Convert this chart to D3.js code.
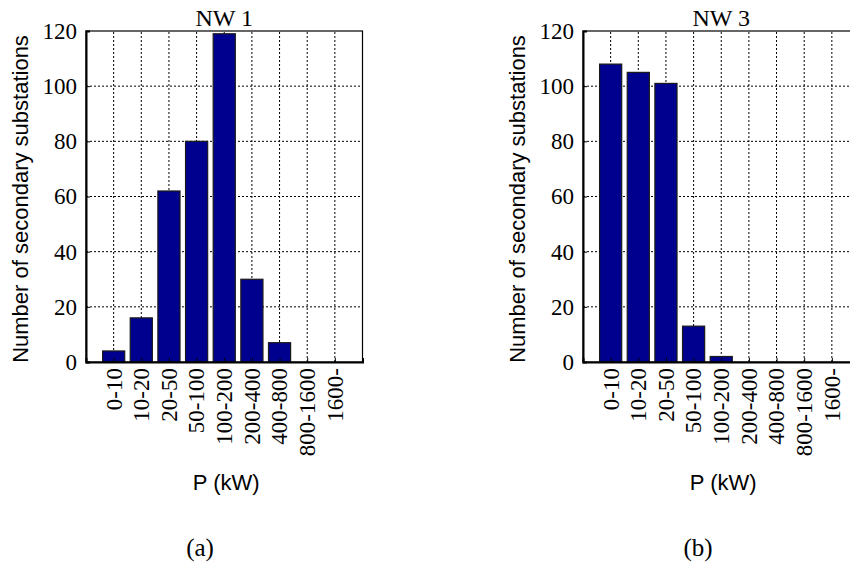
<!DOCTYPE html>
<html>
<head>
<meta charset="utf-8">
<script src="https://cdn.jsdelivr.net/npm/d3@7"></script>
<style>
  html, body { margin: 0; padding: 0; background: #fff; }
  svg { display: block; }
</style>
</head>
<body>
<div id="chart"></div>
<script>
const categories = ['0-10', '10-20', '20-50', '50-100', '100-200', '200-400', '400-800', '800-1600', '1600-'];
const nw1Counts = [4, 16, 62, 80, 119, 30, 7, 0, 0];
const nw3Counts = [108, 105, 101, 13, 2, 0, 0, 0, 0];
const yTicks = [0, 20, 40, 60, 80, 100, 120];
const panelTitles = ['NW 1', 'NW 3'];
const panelLetters = ['(a)', '(b)'];

const width = 850;
const height = 564;
const serif = '"Liberation Serif", "Times New Roman", serif';
const sans = '"Liberation Sans", Arial, sans-serif';

const svg = d3.select('#chart')
    .append('svg')
    .attr('width', width)
    .attr('height', height);

const panels = [
    { left: 86, counts: nw1Counts, title: panelTitles[0], letter: panelLetters[0], letterX: 200 },
    { left: 583, counts: nw3Counts, title: panelTitles[1], letter: panelLetters[1], letterX: 698 }
];

panels.forEach(p => drawPanel(p));

function drawPanel(p) {
    const plotW = 276.5;
    const top = 31, bottom = 362;

    const x = d3.scaleLinear().domain([0, 10]).range([p.left, p.left + plotW]);
    const y = d3.scaleLinear().domain([0, 120]).range([bottom, top]);

    const g = svg.append('g');

    // dotted grid
    g.append('g')
        .selectAll('line')
        .data(yTicks.slice(1, -1))
        .enter().append('line')
        .attr('x1', x(0)).attr('x2', x(10))
        .attr('y1', d => y(d)).attr('y2', d => y(d))
        .attr('stroke', '#000')
        .attr('stroke-width', 1)
        .attr('stroke-dasharray', '2,2');

    g.append('g')
        .selectAll('line')
        .data(categories)
        .enter().append('line')
        .attr('x1', (d, i) => x(i + 1)).attr('x2', (d, i) => x(i + 1))
        .attr('y1', y(0)).attr('y2', y(120))
        .attr('stroke', '#000')
        .attr('stroke-width', 1)
        .attr('stroke-dasharray', '2,2');

    // bars
    const barW = x(0.8) - x(0);
    g.append('g')
        .selectAll('rect')
        .data(p.counts)
        .enter().append('rect')
        .attr('x', (d, i) => x(i + 1) - barW / 2)
        .attr('y', d => y(d))
        .attr('width', barW)
        .attr('height', d => y(0) - y(d))
        .attr('fill', '#00008f')
        .attr('stroke', '#1a1a1a')
        .attr('stroke-width', 1.2);

    // box (top and right thin)
    g.append('rect')
        .attr('x', x(0)).attr('y', y(120))
        .attr('width', x(10) - x(0)).attr('height', y(0) - y(120))
        .attr('fill', 'none')
        .attr('stroke', '#000')
        .attr('stroke-width', 1.2);

    // y axis (left)
    const yAxis = d3.axisLeft(y).tickValues(yTicks).tickSize(-4).tickPadding(9);
    const ya = g.append('g')
        .attr('transform', `translate(${x(0)},0)`)
        .call(yAxis);
    ya.select('.domain').attr('stroke', '#000').attr('stroke-width', 2);
    ya.selectAll('.tick line').attr('stroke', '#000');
    ya.selectAll('.tick text')
        .attr('font-family', serif)
        .attr('font-size', 23)
        .attr('fill', '#000');

    // x axis (bottom), rotated labels
    const xAxis = d3.axisBottom(x)
        .tickValues(categories.map((c, i) => i + 1))
        .tickFormat((d) => categories[d - 1])
        .tickSize(-4);
    const xa = g.append('g')
        .attr('transform', `translate(0,${y(0)})`)
        .call(xAxis);
    xa.select('.domain').attr('stroke', '#000').attr('stroke-width', 2);
    xa.selectAll('.tick line').attr('stroke', '#000');
    xa.selectAll('.tick text')
        .attr('font-family', serif)
        .attr('font-size', 23)
        .attr('fill', '#000')
        .attr('text-anchor', 'end')
        .attr('transform', 'translate(0,6) rotate(-90)')
        .attr('x', 0)
        .attr('y', 0)
        .attr('dy', '0.32em');

    // title
    g.append('text')
        .attr('x', (x(0) + x(10)) / 2)
        .attr('y', 26)
        .attr('text-anchor', 'middle')
        .attr('font-family', serif)
        .attr('font-size', 24)
        .text(p.title);

    // y label
    g.append('text')
        .attr('transform', `translate(${x(0) - 58},199) rotate(-90)`)
        .attr('text-anchor', 'middle')
        .attr('font-family', sans)
        .attr('font-size', 22)
        .text('Number of secondary substations');

    // x label
    g.append('text')
        .attr('x', (x(0) + x(10)) / 2 + 2)
        .attr('y', 490)
        .attr('text-anchor', 'middle')
        .attr('font-family', sans)
        .attr('font-size', 22)
        .text('P (kW)');

    // panel letter
    g.append('text')
        .attr('x', p.letterX)
        .attr('y', 556)
        .attr('text-anchor', 'middle')
        .attr('font-family', serif)
        .attr('font-size', 25)
        .text(p.letter);
}
</script>
</body>
</html>
